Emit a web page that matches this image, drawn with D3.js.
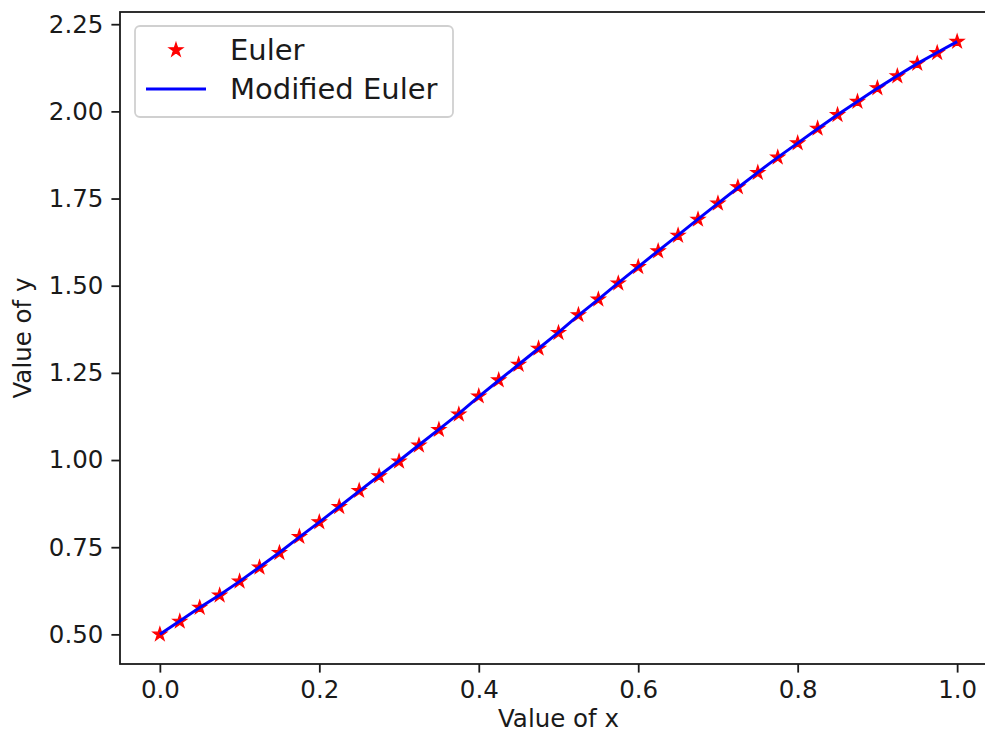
<!DOCTYPE html>
<html>
<head>
<meta charset="utf-8">
<script src="https://cdn.jsdelivr.net/npm/d3@7"></script>
<style>
  body { margin: 0; background: #fff; }
  svg { display: block; font-family: "DejaVu Sans", sans-serif; }
</style>
</head>
<body>
<svg width="985" height="738"></svg>
<script>
// values
const xValues = [0, 0.025, 0.05, 0.075, 0.1, 0.125, 0.15, 0.175, 0.2, 0.225,
  0.25, 0.275, 0.3, 0.325, 0.35, 0.375, 0.4, 0.425, 0.45, 0.475,
  0.5, 0.525, 0.55, 0.575, 0.6, 0.625, 0.65, 0.675, 0.7, 0.725,
  0.75, 0.775, 0.8, 0.825, 0.85, 0.875, 0.9, 0.925, 0.95, 0.975, 1.0];
const eulerY = [0.500, 0.537, 0.577, 0.612, 0.652, 0.692, 0.734, 0.780, 0.822, 0.866,
  0.912, 0.954, 0.996, 1.042, 1.087, 1.131, 1.183, 1.229, 1.274, 1.320,
  1.365, 1.416, 1.461, 1.507, 1.554, 1.599, 1.644, 1.690, 1.736, 1.783,
  1.824, 1.868, 1.909, 1.951, 1.990, 2.028, 2.067, 2.101, 2.137, 2.168, 2.200];
const modEulerY = [0.500, 0.538, 0.577, 0.613, 0.652, 0.693, 0.735, 0.779, 0.822, 0.866,
  0.911, 0.955, 0.998, 1.043, 1.088, 1.133, 1.182, 1.228, 1.274, 1.320,
  1.366, 1.415, 1.461, 1.508, 1.554, 1.600, 1.645, 1.691, 1.736, 1.781,
  1.825, 1.868, 1.909, 1.950, 1.990, 2.028, 2.066, 2.102, 2.137, 2.169, 2.200];
const xTicks = [0.0, 0.2, 0.4, 0.6, 0.8, 1.0];
const yTicks = [0.50, 0.75, 1.00, 1.25, 1.50, 1.75, 2.00, 2.25];
const seriesNames = ["Euler", "Modified Euler"];

const svg = d3.select("svg");
const frame = {left: 120, right: 997, top: 12, bottom: 664};

const x = d3.scaleLinear().domain([-0.05, 1.05]).range([frame.left, frame.right]);
const y = d3.scaleLinear().domain([0.415, 2.285]).range([frame.bottom, frame.top]);

const textColor = "#1a1a1a";

// axes
const xAxis = d3.axisBottom(x).tickValues(xTicks).tickFormat(d3.format(".1f"))
    .tickSize(8.6).tickPadding(8);
const yAxis = d3.axisLeft(y).tickValues(yTicks).tickFormat(d3.format(".2f"))
    .tickSize(8.6).tickPadding(8);

const gx = svg.append("g").attr("transform", "translate(0," + frame.bottom + ")").call(xAxis);
const gy = svg.append("g").attr("transform", "translate(" + frame.left + ",0)").call(yAxis);
[gx, gy].forEach(g => {
  g.select(".domain").remove();
  g.selectAll("line").attr("stroke", textColor).attr("stroke-width", 1.8);
  g.selectAll("text").attr("fill", textColor).style("font-size", "24.5px")
    .style("font-family", "DejaVu Sans");
});

// axis labels
svg.append("text")
  .attr("x", (frame.left + frame.right) / 2).attr("y", 727)
  .attr("text-anchor", "middle").attr("fill", textColor)
  .style("font-size", "24.5px").text("Value of x");
svg.append("text")
  .attr("transform", "translate(31," + (frame.top + frame.bottom) / 2 + ") rotate(-90)")
  .attr("text-anchor", "middle").attr("fill", textColor)
  .style("font-size", "24.5px").text("Value of y");

// data
const euler = xValues.map((v, i) => ({x: v, y: eulerY[i]}));
const modified = xValues.map((v, i) => ({x: v, y: modEulerY[i]}));

const star = d3.symbol().type(d3.symbolStar).size(58);

svg.append("g").selectAll("path")
  .data(euler).enter().append("path")
  .attr("d", star)
  .attr("transform", d => "translate(" + x(d.x) + "," + y(d.y) + ")")
  .attr("fill", "#ff0000").attr("stroke", "#ff0000").attr("stroke-width", 1.2);

const line = d3.line().x(d => x(d.x)).y(d => y(d.y));
svg.append("path").datum(modified)
  .attr("d", line).attr("fill", "none")
  .attr("stroke", "#0000ff").attr("stroke-width", 3);

// frame
svg.append("rect")
  .attr("x", frame.left).attr("y", frame.top)
  .attr("width", frame.right - frame.left).attr("height", frame.bottom - frame.top)
  .attr("fill", "none").attr("stroke", textColor).attr("stroke-width", 1.8);

// legend
const legend = svg.append("g");
legend.append("rect")
  .attr("x", 135).attr("y", 26).attr("width", 318).attr("height", 91)
  .attr("rx", 5).attr("fill", "#fff").attr("fill-opacity", 0.8)
  .attr("stroke", "#d0d0d0").attr("stroke-width", 1.8);
legend.append("path")
  .attr("d", star).attr("transform", "translate(176,50)")
  .attr("fill", "#ff0000").attr("stroke", "#ff0000").attr("stroke-width", 1.2);
legend.append("line")
  .attr("x1", 146).attr("x2", 206).attr("y1", 89).attr("y2", 89)
  .attr("stroke", "#0000ff").attr("stroke-width", 3);
legend.selectAll("text.lbl").data(seriesNames).enter().append("text")
  .attr("class", "lbl")
  .attr("x", 230).attr("y", (d, i) => 50 + i * 39)
  .attr("dy", "0.36em").attr("fill", textColor)
  .style("font-size", "29px").text(d => d);
</script>
</body>
</html>
